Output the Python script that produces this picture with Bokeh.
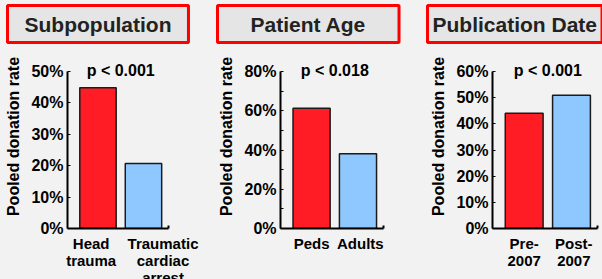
from bokeh.plotting import figure
from bokeh.layouts import row
from bokeh.models import (Range1d, FixedTicker, NumeralTickFormatter, Label, Title,
                          GlobalInlineStyleSheet)
from bokeh.embed import file_html
from bokeh.resources import INLINE

# ---------------- data ----------------
titles = ["Subpopulation", "Patient Age", "Publication Date"]
p_values = ["p < 0.001", "p < 0.018", "p < 0.001"]

sub_cats = ["Head\ntrauma", "Traumatic\ncardiac\narrest"]
sub_vals = [0.448, 0.207]

age_cats = ["Peds", "Adults"]
age_vals = [0.613, 0.381]

pub_cats = ["Pre-\n2007", "Post-\n2007"]
pub_vals = [0.440, 0.509]

y_max = [0.5, 0.8, 0.6]
y_major = [[0, .1, .2, .3, .4, .5], [0, .2, .4, .6, .8], [0, .1, .2, .3, .4, .5, .6]]
y_minor = [[], [.1, .3, .5, .7], []]
y_label = "Pooled donation rate"

cats = [sub_cats, age_cats, pub_cats]
vals = [sub_vals, age_vals, pub_vals]

# ---------------- style ----------------
FONT = "Liberation Sans"
BG = "#f2f2f2"
RED = "#ff1c24"
BLUE = "#8ec8ff"
bar_colors = [RED, BLUE]

col_w = [210, 210, 182]
frame_left = [67, 70, 72]
frame_w = [101, 103, 105]
title_pad_x = [17, 33, 5]
label_shift = [[-0.15, 0.43], [0.0, 0.05], [0.0, 0.05]]

FIG_H = 300
TOP = 44          # frame top (page px)
ZERO = 228        # y=0 (page px)
MAXPX = 71        # y=max (page px)
BAR_W = 0.8
X_RANGE = (0.33, 2.55)


def chart_fig(i):
    c_vals = vals[i]
    xs = [k + 1 for k in range(len(c_vals))]
    w = col_w[i]
    y_end = y_max[i] * (ZERO - TOP) / (ZERO - MAXPX)
    p = figure(width=w, height=FIG_H, toolbar_location=None, output_backend="svg",
               title=None,
               x_range=Range1d(*X_RANGE), y_range=Range1d(0, y_end),
               min_border_left=frame_left[i],
               min_border_right=w - frame_left[i] - frame_w[i],
               min_border_top=TOP, min_border_bottom=FIG_H - ZERO,
               border_fill_color=BG, background_fill_color=BG,
               outline_line_color=None)
    p.grid.visible = False

    t = Title(text=titles[i], align="left", vertical_align="top",
              offset=7 - frame_left[i], standoff=0,
              text_font=FONT, text_font_style="bold", text_font_size="21px",
              text_color="#222222", background_fill_color="#e5e5e5",
              border_line_color="#ff0000", border_line_width=3,
              padding=dict(left=title_pad_x[i], right=title_pad_x[i], top=7, bottom=7))
    p.add_layout(t, "above")

    p.vbar(x=xs, top=c_vals, width=BAR_W, bottom=0, fill_color=bar_colors,
           line_color="#1a1a1a", line_width=1.5)

    ya = p.yaxis[0]
    ya.bounds = (0, y_max[i])
    ya.ticker = FixedTicker(ticks=y_major[i], minor_ticks=y_minor[i])
    ya.formatter = NumeralTickFormatter(format="0%")
    ya.axis_label = y_label
    ya.axis_label_text_font = FONT
    ya.axis_label_text_font_style = "bold"
    ya.axis_label_text_font_size = "16px"
    ya.axis_label_text_color = "black"
    ya.axis_label_standoff = 6
    ya.major_label_text_font = FONT
    ya.major_label_text_font_style = "bold"
    ya.major_label_text_font_size = "16px"
    ya.major_label_text_color = "black"
    ya.major_label_standoff = 4
    ya.axis_line_width = 2
    ya.axis_line_color = "black"
    ya.major_tick_in = 3
    ya.major_tick_out = 0
    ya.minor_tick_in = 3
    ya.minor_tick_out = 0
    ya.major_tick_line_color = "black"
    ya.minor_tick_line_color = "black"

    xa = p.xaxis[0]
    ticks = [x + s for x, s in zip(xs, label_shift[i])]
    xa.ticker = FixedTicker(ticks=ticks, minor_ticks=[X_RANGE[1]])
    xa.major_label_overrides = {tk: lab for tk, lab in zip(ticks, cats[i])}
    xa.axis_line_width = 2
    xa.axis_line_color = "black"
    xa.major_tick_in = 0
    xa.major_tick_out = 0
    xa.minor_tick_in = 3
    xa.minor_tick_out = 0
    xa.minor_tick_line_width = 2
    xa.minor_tick_line_color = "black"
    xa.major_label_standoff = 6
    xa.major_label_text_font = FONT
    xa.major_label_text_font_style = "bold"
    xa.major_label_text_font_size = "15px"
    xa.major_label_text_line_height = 1.0
    xa.major_label_text_color = "black"

    p.add_layout(Label(x=sum(xs) / len(xs), y=y_max[i], y_offset=1, text=p_values[i],
                       text_align="center", text_baseline="middle", text_font=FONT,
                       text_font_style="bold", text_font_size="16px", text_color="black"))
    return p


root = row(*[chart_fig(i) for i in range(3)], stylesheets=[GlobalInlineStyleSheet(
    css="html, body { margin: 0 !important; padding: 0; background: #f2f2f2; overflow: hidden; }")])

open("out.html", "w").write(file_html(root, INLINE))
